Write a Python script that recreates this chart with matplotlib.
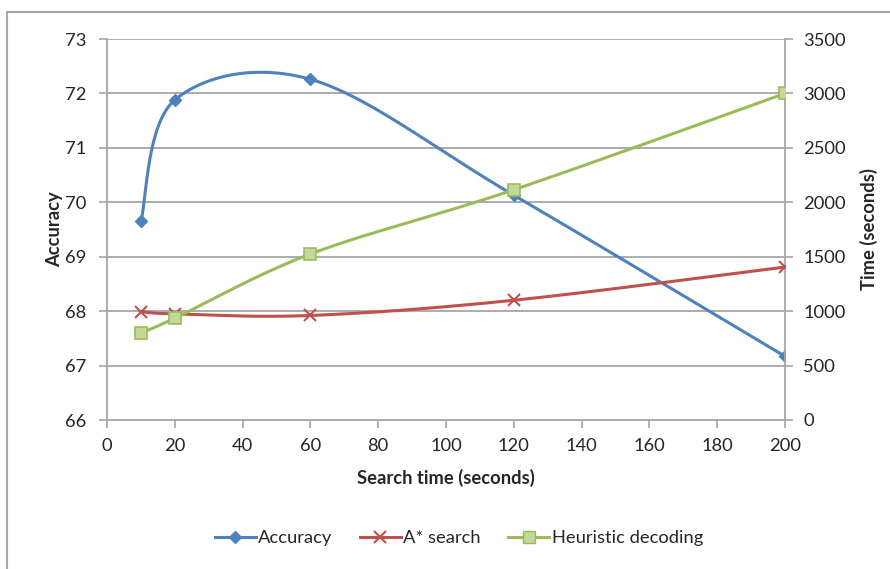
import numpy as np
import matplotlib
matplotlib.use("Agg")
import matplotlib.pyplot as plt
from matplotlib.lines import Line2D

plt.rcParams['font.family'] = ['Lato', 'DejaVu Sans']

search_time = [10, 20, 60, 120, 200]
accuracy = [69.65, 71.88, 72.26, 70.13, 67.17]
astar_time = [995, 975, 960, 1100, 1405]
heuristic_time = [800, 935, 1525, 2115, 3000]

x_ticks = list(range(0, 201, 20))
acc_ticks = list(range(66, 74))
time_ticks = list(range(0, 3501, 500))

BLUE = '#4F81BD'
RED = '#C0504D'
GREEN = '#9BBB59'
GRID = '#A6A6A6'
TXT = '#262626'
FS = 13.2


def smooth(xs, ys, n=60):
    pts = np.column_stack([xs, ys]).astype(float)
    out = [pts[0]]
    m = len(pts)
    for i in range(m - 1):
        p0 = pts[i - 1] if i > 0 else pts[i]
        p1 = pts[i]
        p2 = pts[i + 1]
        p3 = pts[i + 2] if i + 2 < m else pts[i + 1]
        c1 = p1 + (p2 - p0) / 6.0
        c2 = p2 - (p3 - p1) / 6.0
        t = np.linspace(0, 1, n)[1:, None]
        seg = ((1 - t) ** 3) * p1 + 3 * ((1 - t) ** 2) * t * c1 + 3 * (1 - t) * t ** 2 * c2 + t ** 3 * p2
        out.extend(seg)
    out = np.array(out)
    return out[:, 0], out[:, 1]


fig = plt.figure(figsize=(8.9, 5.69), dpi=100)
ax = fig.add_axes([107 / 890, 1 - 420 / 569, (785 - 107) / 890, (420 - 39) / 569])
ax2 = ax.twinx()

ax.set_xlim(0, 200)
ax.set_ylim(66, 73)
ax2.set_ylim(0, 3500)

for t in acc_ticks[1:]:
    ax.axhline(t, color=GRID, lw=1.3, zorder=0)

sx, sy = smooth(search_time, accuracy)
ax.plot(sx, sy, color=BLUE, lw=2.2, zorder=3)
ax.plot(search_time, accuracy, ls='none', marker='D', ms=6, mfc=BLUE, mec=BLUE, zorder=4)

sx, sy = smooth(search_time, astar_time)
ax2.plot(sx, sy, color=RED, lw=2.2, zorder=3)
ax2.plot(search_time, astar_time, ls='none', marker='x', ms=8, mew=1.5, color=RED, zorder=4)

sx, sy = smooth(search_time, heuristic_time)
ax2.plot(sx, sy, color=GREEN, lw=2.2, zorder=3)
ax2.plot(search_time, heuristic_time, ls='none', marker='s', ms=9, mfc='#C3D89A', mec=GREEN, mew=1.2, zorder=4)

for a in (ax, ax2):
    for s in a.spines.values():
        s.set_visible(False)
ax.spines['left'].set_visible(True)
ax.spines['bottom'].set_visible(True)
ax2.spines['right'].set_visible(True)
for s in (ax.spines['left'], ax.spines['bottom'], ax2.spines['right']):
    s.set_color(GRID)
    s.set_linewidth(1.3)

ax.set_xticks(x_ticks)
ax.set_yticks(acc_ticks)
ax2.set_yticks(time_ticks)
ax.tick_params(axis='both', direction='out', length=6, width=1.2, color=GRID,
               labelsize=FS, labelcolor=TXT, pad=7)
ax.tick_params(axis='y', pad=9)
ax2.tick_params(axis='y', direction='out', length=6, width=1.2, color=GRID,
                labelsize=FS, labelcolor=TXT, pad=7)

ax.set_xlabel('Search time (seconds)', fontsize=FS, fontweight='bold', color=TXT, labelpad=11)
ax.set_ylabel('Accuracy', fontsize=FS, fontweight='bold', color=TXT, labelpad=1)
ax2.set_ylabel('Time (seconds)', fontsize=FS, fontweight='bold', color=TXT, labelpad=10)

handles = [
    Line2D([], [], color=BLUE, lw=2.2, marker='D', ms=6),
    Line2D([], [], color=RED, lw=2.2, marker='x', ms=8, mew=1.5),
    Line2D([], [], color=GREEN, lw=2.2, marker='s', ms=8, mfc='#C3D89A', mec=GREEN),
]
fig.legend(handles, ['Accuracy', 'A* search', 'Heuristic decoding'],
           loc='center', bbox_to_anchor=(459 / 890, 1 - 538 / 569), ncol=3, frameon=False,
           fontsize=FS, handlelength=2.2, columnspacing=1.5, handletextpad=0.15,
           labelcolor=TXT)

fig.add_artist(Line2D([7 / 890, 1], [1 - 12 / 569, 1 - 12 / 569], color=GRID, lw=1.5,
                      transform=fig.transFigure))
fig.add_artist(Line2D([7 / 890, 7 / 890], [0, 1 - 12 / 569], color=GRID, lw=1.5,
                      transform=fig.transFigure))

fig.savefig('out.png', dpi=100)
